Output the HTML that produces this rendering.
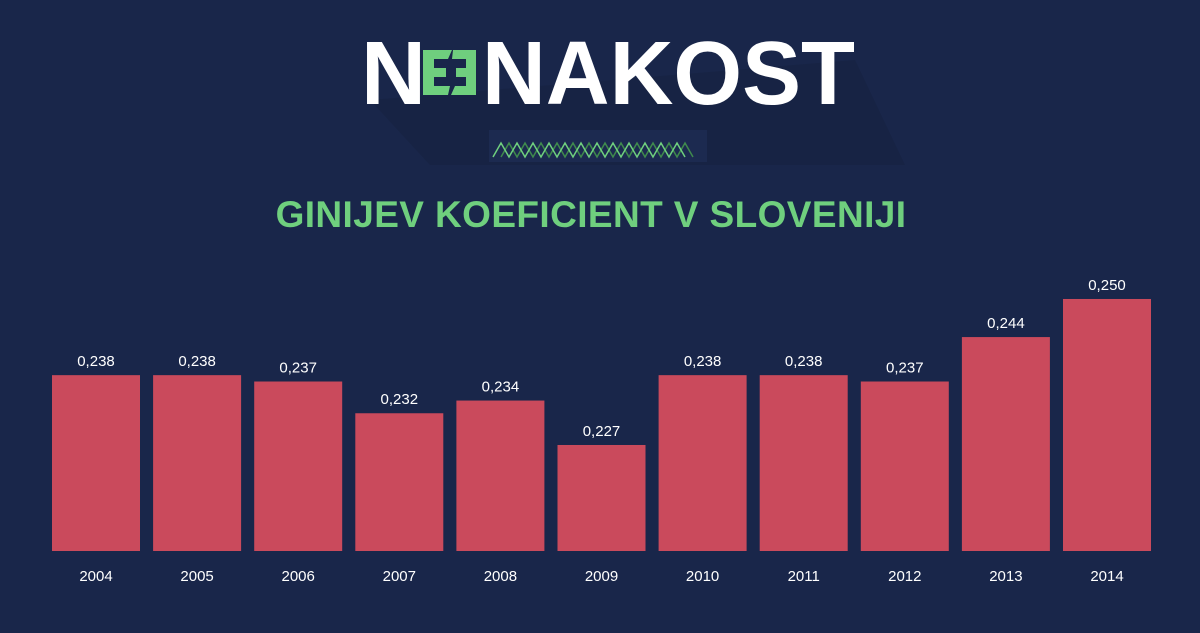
<!DOCTYPE html>
<html><head><meta charset="utf-8"><style>
html,body{margin:0;padding:0;background:#19264a;}
body{width:1200px;height:633px;overflow:hidden;position:relative;font-family:"Liberation Sans",sans-serif;}
#logo{position:absolute;left:0;top:0;width:1200px;height:180px;}
#title{position:absolute;left:0;width:1182px;top:194px;text-align:center;color:#6fcf7e;font-weight:bold;font-size:37px;letter-spacing:0.4px;}
svg{position:absolute;left:0;top:0;}
</style></head><body>
<svg id="logo" width="1200" height="180">
  <polygon points="370,100 855,60 905,165 430,165" fill="#16213f" opacity="0.45"/>
  <rect x="489" y="130" width="218" height="32" fill="#1c2a50"/>
  <text x="361" y="104" font-family="Liberation Sans, sans-serif" font-weight="bold" font-size="90" fill="#ffffff">N</text>
  <g>
    <polygon points="423,50 452,50 448,59 434,59 434,68 446,68 446,77 434,77 434,86 450,86 448,95 423,95" fill="#6fcf7e"/>
    <polygon points="453,50 476,50 476,95 451,95 455,86 466,86 466,77 456,77 456,68 466,68 466,59 452,59" fill="#6fcf7e"/>
  </g>
  <text x="482" y="104" font-family="Liberation Sans, sans-serif" font-weight="bold" font-size="90" fill="#ffffff" textLength="373" lengthAdjust="spacingAndGlyphs">NAKOST</text>
  <polyline points="493,157 501,143 509,157 517,143 525,157 533,143 541,157 549,143 557,157 565,143 573,157 581,143 589,157 597,143 605,157 613,143 621,157 629,143 637,157 645,143 653,157 661,143 669,157 677,143 685,157" fill="none" stroke="#3f8a4d" stroke-width="1.5" transform="translate(8,0)"/>
  <polyline points="493,157 501,143 509,157 517,143 525,157 533,143 541,157 549,143 557,157 565,143 573,157 581,143 589,157 597,143 605,157 613,143 621,157 629,143 637,157 645,143 653,157 661,143 669,157 677,143 685,157" fill="none" stroke="#6fcf7e" stroke-width="1.5"/>
</svg>
<div id="title">GINIJEV KOEFICIENT V SLOVENIJI</div>
<svg id="chart" width="1200" height="633"></svg>
<script>
const years = ["2004","2005","2006","2007","2008","2009","2010","2011","2012","2013","2014"];
const giniValues = [0.238,0.238,0.237,0.232,0.234,0.227,0.238,0.238,0.237,0.244,0.250];
const valueLabels = ["0,238","0,238","0,237","0,232","0,234","0,227","0,238","0,238","0,237","0,244","0,250"];

const ns = "http://www.w3.org/2000/svg";
const svg = document.getElementById("chart");
const baseY = 551, pxPerUnit = 6348, baseVal = 0.2103;
const x0 = 52, step = 101.1, barW = 88;
function yScale(v){ return baseY - (v - baseVal) * pxPerUnit; }
function xScale(i){ return x0 + i * step; }
giniValues.forEach((v,i)=>{
  const x = xScale(i), y = yScale(v);
  const r = document.createElementNS(ns,"rect");
  r.setAttribute("x",x); r.setAttribute("y",y);
  r.setAttribute("width",barW); r.setAttribute("height",baseY-y);
  r.setAttribute("fill","#ca4a5c");
  
  
  svg.appendChild(r);
  const t = document.createElementNS(ns,"text");
  t.setAttribute("x",x+barW/2); t.setAttribute("y",y-9);
  t.setAttribute("text-anchor","middle"); t.setAttribute("fill","#ffffff");
  t.setAttribute("font-size","15"); t.setAttribute("font-family","Liberation Sans, sans-serif");
  t.textContent = valueLabels[i];
  
  
  svg.appendChild(t);
  const yl = document.createElementNS(ns,"text");
  yl.setAttribute("x",x+barW/2); yl.setAttribute("y",581);
  yl.setAttribute("text-anchor","middle"); yl.setAttribute("fill","#ffffff");
  yl.setAttribute("font-size","15"); yl.setAttribute("font-family","Liberation Sans, sans-serif");
  yl.textContent = years[i];
  
  
  svg.appendChild(yl);
});
</script>
</body></html>
